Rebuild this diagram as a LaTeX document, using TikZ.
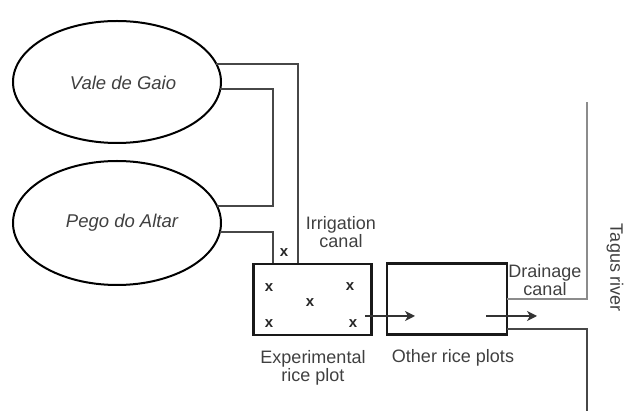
\documentclass[tikz,border=0pt]{standalone}
\usepackage{fontspec}
\setmainfont{Liberation Sans}
\usetikzlibrary{arrows.meta,shapes.geometric}
\begin{document}
\begin{tikzpicture}[x=1pt,y=-1pt,
  pond/.style={draw=black,line width=2pt,ellipse,minimum width=208pt,minimum height=122pt,inner sep=0pt},
  pondtext/.style={font=\fontsize{18.5}{20}\selectfont\itshape,text=black!75,inner sep=0pt},
  plot/.style={draw=black!90,line width=2.4pt,minimum width=118pt,minimum height=71pt,inner sep=0pt},
  canal/.style={draw=black!72,line width=1.3pt},
  lightcanal/.style={draw=black!45,line width=1.3pt},
  flow/.style={draw=black!80,line width=1.4pt,-{Stealth[length=10pt,width=10pt,inset=3pt]}},
  lbl/.style={font=\fontsize{18}{18}\selectfont,text=black!75,align=center,inner sep=0pt},
  xmark/.style={font=\fontsize{15}{15}\selectfont\bfseries,text=black!85,inner sep=0pt}]
\useasboundingbox (0,0) rectangle (638,411);
\node[pond] (e1) at (117,82) {};
\node[pondtext] (t1) at (123,83) {Vale de Gaio};
\node[pond,minimum height=124pt] (e2) at (117,223) {};
\node[pondtext] (t2) at (122,223) {Pego do Altar};
\node[plot] (exp) at (312.5,299.5) {};
\node[plot,minimum width=120pt] (oth) at (447,299) {};
% irrigation canals
\coordinate (a0) at (216,64);
\coordinate (a1) at (298,64);
\coordinate (a2) at (298,263);
\draw[canal] (a0) -- (a1) -- (a2);
\coordinate (b0) at (220,89);
\coordinate (b1) at (273,89);
\coordinate (b2) at (273,206);
\coordinate (b3) at (217,206);
\draw[canal] (b0) -- (b1) -- (b2) -- (b3);
\coordinate (c0) at (220,232);
\coordinate (c1) at (273,232);
\coordinate (c2) at (273,263);
\draw[canal] (c0) -- (c1) -- (c2);
\node[xmark] (m0) at (284,253) {x};
% sample points
\node[xmark] (m1) at (269,288) {x};
\node[xmark] (m2) at (350,287) {x};
\node[xmark] (m3) at (310,303) {x};
\node[xmark] (m4) at (269,324) {x};
\node[xmark] (m5) at (353,324) {x};
% flows
\coordinate (f0) at (365,316);
\coordinate (f1) at (415,316);
\draw[flow] (f0) -- (f1);
\coordinate (g0) at (486,316);
\coordinate (g1) at (537,316);
\draw[flow] (g0) -- (g1);
% drainage
\coordinate (d0) at (507,299);
\coordinate (d1) at (587,299);
\coordinate (d2) at (587,102);
\draw[lightcanal] (d0) -- (d1) -- (d2);
\coordinate (r0) at (507,329);
\coordinate (r1) at (587,329);
\coordinate (r2) at (587,411);
\draw[canal] (r0) -- (r1) -- (r2);
% labels
\node[lbl] (li) at (341,232) {Irrigation\\canal};
\node[lbl] (ld) at (545,280) {Drainage\\canal};
\node[lbl] (le) at (313,368) {Experimental\\rice plot};
\node[lbl] (lo) at (453,358) {Other rice plots};
\node[lbl,rotate=-90] (lt) at (615,268) {Tagus river};
\end{tikzpicture}
\end{document}
